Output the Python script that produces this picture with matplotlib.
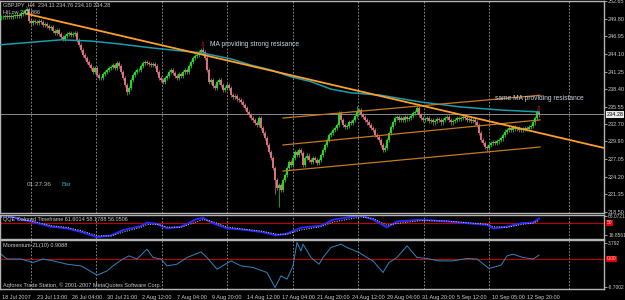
import matplotlib
matplotlib.use("Agg")
import matplotlib.pyplot as plt

# ---------------------------------------------------------------- data
# GBPJPY H4 closes, one per bar (2 px per bar)
CLOSES = [
    250.1, 250.1, 250.3, 250.1, 250.3, 250.1, 250.3, 250.3, 250.4, 250.3,
    250.6, 250.8, 251.0, 251.4, 249.4, 249.1, 249.4, 249.3, 249.1, 249.4,
    249.3, 248.8, 249.0, 248.6, 248.3, 248.5, 247.8, 247.5, 248.0, 247.3,
    246.9, 246.5, 247.0, 247.3, 247.5, 247.2, 247.3, 247.5, 246.4, 245.6,
    244.7, 243.9, 243.5, 242.8, 242.3, 241.8, 241.2, 241.8, 240.7, 240.2,
    240.2, 240.8, 241.2, 241.5, 241.8, 242.0, 242.3, 241.8, 242.6, 242.1,
    241.2, 240.2, 239.1, 237.9, 238.6, 239.9, 240.7, 241.2, 241.5, 241.5,
    242.1, 242.6, 242.8, 242.6, 242.5, 242.3, 242.5, 242.1, 241.2, 240.2,
    239.9, 239.5, 240.2, 240.5, 241.2, 241.5, 241.0, 240.5, 240.2, 240.8,
    240.5, 241.2, 241.5, 241.2, 242.1, 242.8, 243.4, 243.8, 243.9, 244.4,
    244.7, 244.4, 243.4, 241.5, 239.6, 239.9, 238.9, 238.6, 239.6, 239.9,
    239.1, 238.3, 238.6, 239.1, 238.6, 237.4, 237.1, 237.3, 236.8, 236.6,
    236.3, 235.8, 235.3, 234.7, 234.2, 233.7, 233.4, 232.9, 232.6, 233.7,
    232.1, 231.3, 230.5, 229.3, 228.2, 227.2, 225.6, 223.7, 222.4, 222.8,
    222.0, 223.7, 224.5, 225.6, 226.6, 226.1, 227.2, 228.2, 227.7, 228.5,
    228.0, 226.1, 227.2, 227.6, 226.9, 226.6, 227.2, 226.9, 226.4, 226.9,
    227.7, 228.5, 229.3, 230.1, 231.0, 231.3, 231.8, 232.1, 232.6, 234.5,
    233.4, 232.6, 232.2, 232.4, 233.0, 232.9, 233.4, 234.0, 234.7, 235.0,
    234.2, 233.9, 233.4, 233.0, 232.6, 232.1, 231.8, 231.0, 230.6, 230.1,
    229.3, 228.5, 228.9, 230.1, 231.3, 232.2, 233.0, 233.7, 233.9, 233.4,
    233.7, 233.4, 233.9, 233.5, 233.7, 234.0, 234.5, 234.7, 235.3, 234.2,
    233.7, 233.4, 233.5, 233.7, 233.2, 233.4, 233.0, 233.2, 233.5, 233.4,
    233.0, 233.4, 233.7, 233.9, 233.4, 233.0, 233.2, 233.4, 233.7, 233.5,
    233.7, 233.9, 233.7, 233.4, 233.5, 233.2, 233.4, 233.0, 232.6, 231.3,
    230.1, 229.6, 229.0, 228.9, 229.3, 229.6, 229.8, 229.6, 229.9, 230.1,
    230.4, 231.0, 231.5, 231.8, 232.1, 231.8, 232.3, 231.9, 232.1, 231.8,
    231.8, 231.9, 232.1, 231.9, 232.3, 232.4, 233.0, 233.7, 234.7, 234.28,
]
OPEN0 = 250.0
WICK = 0.35
HIGH_OVR = {13: 251.8, 101: 245.2, 178: 235.6, 208: 235.6, 269: 234.8}
LOW_OVR = {137: 221.4, 139: 219.3, 243: 228.2, 63: 237.4}

MA_BARS = [0, 15, 30, 45, 60, 75, 90, 100, 115, 125, 135, 145, 155, 165,
           175, 190, 210, 230, 250, 269]
MA_VALS = [245.6, 246.0, 246.4, 246.2, 245.7, 245.1, 244.6, 244.3, 243.3,
           242.3, 241.5, 240.4, 239.6, 238.4, 237.8, 237.4, 236.3, 235.5,
           235.0, 234.7]

TREND = [(13, 250.6), (301.5, 228.85)]
CHANNEL = [[(141, 233.7), (269.5, 237.4)],
           [(141, 229.33), (269.5, 233.4)],
           [(141, 225.1), (269.5, 229.0)]]
PRICE_NOW = 234.28
ARROWS = [(101, 245.05), (269, 234.75)]
PRICE_TICKS = [252.65, 249.80, 246.95, 244.10, 241.25, 238.40, 235.55,
               232.70, 229.90, 227.05, 224.20, 221.35, 218.50]

QQE_BARS = [0, 5, 10, 15, 25, 33, 40, 48, 55, 61, 70, 73, 78, 83, 90, 98,
            101, 106, 113, 120, 130, 138, 143, 150, 160, 166, 175, 180, 186,
            193, 198, 210, 223, 233, 243, 246, 253, 260, 266, 269]
QQE_FAST = [71, 68, 58.5, 53.5, 39, 34.3, 24.4, 9.9, 14.8, 29.4, 41, 50.6,
            46.8, 34.3, 39, 60.5, 63.4, 48.9, 34.3, 31.4, 24.4, 14.8, 19.8,
            36.1, 42, 58.5, 66.3, 70.1, 58.5, 37.2, 53.5, 58.5, 53.5, 48.9,
            43.9, 34.3, 39, 48.9, 50.6, 61.6]
QQE_SLOW = [66, 66, 60, 55, 42, 37, 28, 14, 13, 24, 37, 45, 46, 38, 37, 53,
            59, 53, 38, 33, 27, 18, 18, 30, 39, 52, 61, 66, 62, 43, 48, 56,
            55, 50, 46, 39, 37, 45, 49, 56]

MOM_BARS = [0, 3, 10, 16, 21, 26, 33, 40, 43, 48, 53, 56, 61, 64, 68, 73, 76,
            80, 83, 88, 93, 100, 103, 108, 115, 120, 126, 133, 137, 140, 143,
            146, 148, 150, 151, 155, 159, 161, 165, 170, 173, 179, 183, 186,
            191, 194, 198, 203, 208, 213, 219, 226, 233, 238, 244, 250, 253,
            256, 261, 266, 269]
MOM_VALS = [1.16, 0, 0, -0.85, 0, -0.46, -1.26, -1.67, -2.47, -3.92, -2.88,
            -1.67, 0, 0.75, 0, 2.37, 0.36, 0, -1.67, -1.26, 0.36, 1.72, 0.36,
            -2.47, -0.46, -1.67, -2.06, -3.27, -6.9, -4.09, -4.89, -1.67,
            3.99, 1.96, 3.58, 0.36, -1.26, 0.36, 2.78, 3.58, 2.78, 1.57, 0.36,
            -0.46, -3.27, -0.85, 0.36, 3.17, 0.36, 0.12, -0.46, -0.46, 0.12,
            0, -2.30, -1.50, 0.75, 1.16, 0.36, 0, 0.91]

GRID_BARS = [15, 47.5, 80.5, 113, 146, 178.5, 211.5, 244, 284]
DATE_BARS = [0.5, 18, 35.5, 53, 70.5, 88, 105.5, 123, 140.5, 158, 175.5, 193,
             210.5, 228, 245.5, 263]
DATE_LABELS = ["18 Jul 2007", "23 Jul 13:00", "26 Jul 04:00", "30 Jul 21:00",
               "2 Aug 12:00", "7 Aug 04:00", "9 Aug 20:00", "14 Aug 12:00",
               "17 Aug 04:00", "21 Aug 20:00", "24 Aug 12:00", "29 Aug 04:00",
               "31 Aug 20:00", "5 Sep 12:00", "10 Sep 05:00", "12 Sep 20:00"]

# ---------------------------------------------------------------- figure
W, H = 625, 300
FONT = "Liberation Sans"
FG = "#c8c8c8"
BORDER = "#b4b4b4"
XLIM = (-0.5, 301.5)

fig = plt.figure(figsize=(W / 100, H / 100), dpi=100, facecolor="black")


def panel(top, bottom, lsize=4):
    ax = fig.add_axes([0.0, 1 - bottom / H, 604 / W, (bottom - top) / H])
    ax.set_facecolor("black")
    for sp in ax.spines.values():
        sp.set_color(BORDER)
        sp.set_linewidth(1.0)
    ax.set_xlim(*XLIM)
    ax.set_xticks([])
    ax.yaxis.tick_right()
    ax.tick_params(axis="y", labelsize=lsize, colors=BORDER, labelcolor=FG,
                   length=2, width=0.6, pad=1.0)
    for b in GRID_BARS:
        ax.axvline(b, color="#a0a0a0", lw=0.6, ls=(0, (2, 2)), zorder=0)
    return ax


def right_box(ax, y, txt, fc, tc, size=4):
    ax.annotate(txt, xy=(1.004, y), xycoords=("axes fraction", "data"),
                ha="left", va="center", fontsize=size, color=tc, family=FONT,
                bbox=dict(boxstyle="square,pad=0.15", fc=fc, ec="none"),
                annotation_clip=False)


# ---------------------------------------------------------------- main
ax = panel(1, 213)
ax.set_ylim(218.29, 252.70)
ax.set_yticks(PRICE_TICKS)
ax.set_yticklabels([f"{v:.2f}" for v in PRICE_TICKS], family=FONT)

opens = [OPEN0] + CLOSES[:-1]
for i, (o, c) in enumerate(zip(opens, CLOSES)):
    col = "#22d822" if c >= o else "#d8707e"
    hi = HIGH_OVR.get(i, max(o, c) + WICK)
    lo = LOW_OVR.get(i, min(o, c) - WICK)
    ax.vlines(i, lo, hi, color=col, lw=0.5, zorder=3)
    body = max(abs(c - o), 0.08)
    ax.bar(i, body, bottom=min(o, c), width=0.6, color=col, lw=0, zorder=3)

ax.plot(MA_BARS, MA_VALS, color="#1a9cab", lw=1.1, zorder=4)
ax.plot([p[0] for p in TREND], [p[1] for p in TREND], color="#ff9f2a",
        lw=1.3, zorder=5)
for line in CHANNEL:
    ax.plot([p[0] for p in line], [p[1] for p in line], color="#c47a1e",
            lw=0.9, zorder=4)
ax.axhline(PRICE_NOW, color="#8a8a8a", lw=0.7, zorder=2)
for b, p in ARROWS:
    ax.text(b, p, "\u21e9", color="#e01818", fontsize=5, ha="center",
            va="bottom", family="DejaVu Sans", zorder=6)
right_box(ax, PRICE_NOW, f"{PRICE_NOW:.2f}", "#e8e8e8", "black")

# ---------------------------------------------------------------- QQE
aq = panel(214.5, 238.5, lsize=3.5)
aq.set_ylim(6.1, 73.0)
aq.set_yticks([68.0721, 16.8561])
aq.set_yticklabels(["68.0721", "16.8561"], family=FONT)
aq.axhline(50, color="#c00000", lw=0.8, zorder=1)
aq.plot(QQE_BARS, QQE_SLOW, color="#d8d8d8", lw=0.7, ls=(0, (1, 1.5)),
        zorder=3)
aq.plot(QQE_BARS, QQE_FAST, color="#2828ff", lw=1.4, zorder=2)
right_box(aq, 50, "50", "#e00000", "#ffd0d0", size=3.5)

# ---------------------------------------------------------------- momentum
am = panel(240, 289, lsize=3.5)
am.set_ylim(-7.26, 4.59)
am.set_yticks([3.792, -6.7002])
am.set_yticklabels(["3.792", "-6.7002"], family=FONT)
am.axhline(0, color="#c00000", lw=0.8, zorder=1)
am.plot(MOM_BARS, MOM_VALS, color="#2f86c0", lw=0.7, zorder=2)
right_box(am, 0, "0.00", "#e00000", "#ffd0d0", size=3.5)

for b, lab in zip(DATE_BARS, DATE_LABELS):
    am.annotate(lab, xy=(b, 0), xycoords=("data", "axes fraction"),
                xytext=(0, -4), textcoords="offset points", ha="left",
                va="top", fontsize=4, color=FG, family=FONT,
                annotation_clip=False)


# ---------------------------------------------------------------- texts
def ftext(x, y, s, color=FG, size=4, **kw):
    fig.text(x / W, 1 - y / H, s, color=color, fontsize=size, family=FONT,
             ha="left", va="center", **kw)


ftext(3, 5, "GBPJPY ,H4  234.11 234.76 234.10 234.28")
ftext(3, 12, "HiLow 233.866")
ftext(210, 45, "MA providing strong resisance", color="#c8d2e6", size=4.8)
ftext(495, 98.5, "same MA providing resistance", color="#c8d2e6", size=4.8)
ftext(27, 184, "01:27:36", color="#b4b4b4", size=4.6)
ftext(62, 184, "Bar", color="#2aa8b8", size=4.6)
ftext(3, 219.5, "QQE Colored Timeframe 61.6014 58.1788 56.0506")
ftext(3, 245, "Momentum-ZL(10) 0.9088")
ftext(3, 285, "Aqforex Trade Station, \u00a9 2001-2007 MetaQuotes Software Corp.")

fig.savefig("out.png", dpi=100, facecolor="black")
